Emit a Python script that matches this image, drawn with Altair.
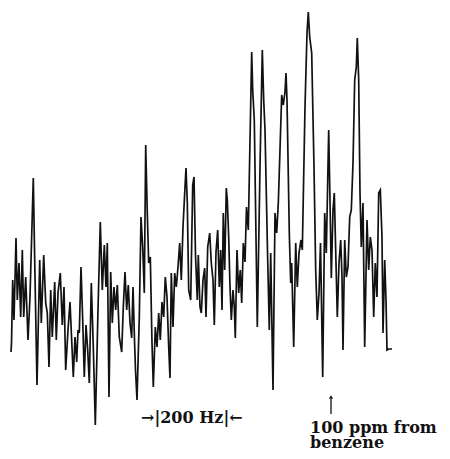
import altair as alt
import pandas as pd

# Trace of the spectrum: horizontal position and signal height (arbitrary units)
pos = [11, 11.5, 12.7, 14, 16, 17.3, 19, 20.7, 22.3, 23.7, 25.7, 28, 30, 33.3, 34.7, 37, 39.7, 41.3, 43.7, 45.7,
       47.3, 49, 50.7, 52.3, 54.7, 56.3, 58, 60.3, 62.3, 64, 65.7, 68, 70, 73.3, 75, 76.7, 78, 79.3, 81, 82.7,
       84.3, 86, 87.7, 89.3, 91.3, 93.3, 95.3, 98, 100.3, 102.3, 104.3, 106, 107.3, 109, 110.7, 112.3, 114, 115.7, 117.3, 119.3,
       121.7, 123.3, 125, 126.7, 128.3, 130, 131.7, 133, 134.5, 135.5, 137, 139.3, 141, 142.7, 144.3, 145.7, 147.3, 148.7, 150.3, 152,
       153.3, 155.3, 157, 158.7, 160.3, 162, 163.7, 165.3, 167, 168.7, 170, 171.3, 173, 174.7, 176.3, 178, 179.7, 181.3, 183, 184.7,
       186, 187.3, 188.7, 190.7, 192.7, 194, 195.5, 197.3, 198.3, 200, 201.3, 203, 204.7, 206, 207.7, 209.7, 211.3, 213, 214.3, 216,
       217.7, 219.3, 220.7, 222, 223.3, 224.7, 226.3, 227.3, 228.7, 230, 231.3, 233, 234.3, 235.3, 237, 238.7, 240.3, 241.7, 243.3, 245,
       246.5, 248.3, 251.7, 252.7, 254.3, 257.3, 260, 262.3, 263.7, 265, 267.7, 269.3, 270.7, 273, 275, 276.7, 278.3, 280.3, 281.7, 283.3,
       285, 286, 287, 289.3, 290.7, 291.7, 293.7, 295.7, 297.3, 299, 301, 302.3, 305, 307, 308.3, 309.7, 311.7, 314, 315.7, 317.3,
       319, 320.5, 322.7, 324.7, 326.3, 328.7, 330.3, 331.3, 333, 334.3, 336, 337.3, 339, 340.7, 342, 343, 344.7, 346.3, 348, 349.7,
       351.3, 353, 354.7, 356.3, 357.3, 358.7, 360, 361.3, 363, 364.7, 367, 368.7, 370.3, 372, 373.7, 375.3, 377, 378.7, 380.3, 382,
       383, 384.7, 386, 387, 388.7, 392]
signal = [99, 108, 171, 131, 213, 151, 188, 134, 201, 134, 174, 111, 154, 273, 191, 66, 191, 128, 196, 148,
          138, 84, 161, 114, 169, 111, 158, 178, 126, 164, 81, 121, 149, 74, 114, 89, 121, 118, 184, 131,
          74, 126, 101, 68, 168, 104, 26, 141, 229, 161, 206, 164, 208, 54, 179, 128, 164, 141, 166, 114,
          99, 144, 179, 141, 166, 128, 113, 164, 111, 81, 51, 134, 234, 204, 158, 306, 238, 188, 194, 108,
          64, 124, 104, 138, 111, 149, 134, 174, 154, 104, 73, 178, 124, 178, 164, 184, 208, 171, 224, 258,
          283, 248, 161, 151, 266, 274, 196, 151, 196, 144, 138, 171, 183, 134, 204, 218, 188, 171, 126, 199,
          221, 164, 201, 141, 238, 181, 263, 251, 214, 164, 131, 161, 144, 113, 201, 158, 181, 148, 208, 189,
          244, 221, 399, 361, 331, 124, 284, 401, 351, 321, 191, 121, 198, 61, 238, 218, 248, 311, 356, 346,
          359, 378, 351, 218, 168, 188, 104, 208, 164, 198, 211, 201, 344, 418, 439, 414, 398, 284, 181, 131,
          158, 208, 74, 238, 198, 321, 234, 173, 241, 258, 188, 134, 188, 211, 174, 101, 211, 174, 184, 234,
          241, 288, 371, 384, 413, 371, 258, 204, 248, 104, 231, 181, 214, 201, 134, 188, 154, 258, 261, 214,
          118, 191, 151, 101, 102, 102]

# Annotations (text and where it sits on the same scales)
label_text = ["\u2192|200 Hz|\u2190", "100 ppm from", "benzene"]
label_pos = [141, 310, 310]
label_sig = [28, 18, 3]

marker_pos = [331]
marker_lo = [37]
marker_hi = [52]
marker_head = [54]

trace = pd.DataFrame({"pos": pos, "signal": signal})
labels = pd.DataFrame({"pos": label_pos, "signal": label_sig, "text": label_text})
marker = pd.DataFrame({"pos": marker_pos, "lo": marker_lo, "hi": marker_hi, "head": marker_head})

xs = alt.Scale(domain=[8, 442])
ys = alt.Scale(domain=[0, 443])

line = alt.Chart(trace).mark_line(color="#111111", strokeWidth=1.7, strokeJoin="miter").encode(
    x=alt.X("pos:Q", scale=xs, axis=None),
    y=alt.Y("signal:Q", scale=ys, axis=None),
)

text = alt.Chart(labels).mark_text(
    align="left", baseline="alphabetic", font="DejaVu Serif", fontSize=16, fontWeight="bold", color="#111111"
).encode(
    x=alt.X("pos:Q", scale=xs, axis=None),
    y=alt.Y("signal:Q", scale=ys, axis=None),
    text="text:N",
)

stem = alt.Chart(marker).mark_rule(color="#111111", strokeWidth=1.3).encode(
    x=alt.X("pos:Q", scale=xs, axis=None),
    y=alt.Y("lo:Q", scale=ys, axis=None),
    y2="hi:Q",
)

head = alt.Chart(marker).mark_point(shape="triangle-up", filled=True, size=18, color="#111111", opacity=1).encode(
    x=alt.X("pos:Q", scale=xs, axis=None),
    y=alt.Y("head:Q", scale=ys, axis=None),
)

chart = alt.layer(line, text, stem, head).properties(
    width=434, height=443, padding=0, autosize=alt.AutoSizeParams(type="none")
).configure_view(stroke=None)

chart.save("out.html", embed_options={"renderer": "svg", "actions": False})
